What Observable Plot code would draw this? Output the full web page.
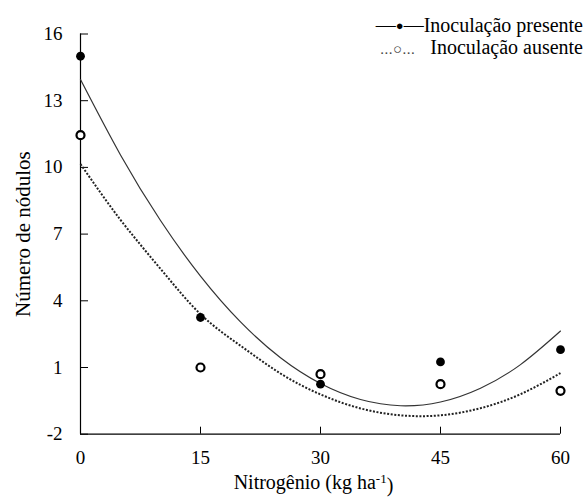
<!DOCTYPE html>
<html>
<head>
<meta charset="utf-8">
<script src="https://cdn.jsdelivr.net/npm/d3@7"></script>
<script src="https://cdn.jsdelivr.net/npm/@observablehq/plot@0.6"></script>
<style>
  body { margin: 0; background: #fff; }
  #wrap { position: relative; width: 585px; height: 502px; font-family: "Liberation Serif", "Times New Roman", "Tinos", "Noto Serif", "DejaVu Serif", serif; }
  .leg { position: absolute; right: 2px; font-size: 20px; color: #000; white-space: nowrap; height: 22px; line-height: 22px; text-align: right; }
</style>
</head>
<body>
<div id="wrap">
  <div id="chart"></div>
  <div class="leg" style="top:14px"><span>—</span><span style="font-size:13px;position:relative;top:-2px">●</span><span>—</span>Inoculação presente</div>
  <div class="leg" style="top:36px"><span style="font-size:15px;color:#444;letter-spacing:0.5px">...○...</span>&nbsp;&nbsp; Inoculação ausente</div>
</div>
<script>
// Observed data (Nitrogênio kg/ha vs número de nódulos)
const doses = [0, 15, 30, 45, 60];
const presente = [15.0, 3.25, 0.25, 1.25, 1.8];
const ausente = [11.45, 1.0, 0.7, 0.25, -0.05];

// Fitted curves
const curveX = [0, 5, 10, 15, 20, 25, 30, 35, 40, 45, 50, 55, 60];
const curvePresente = [13.95, 10.56, 7.61, 5.11, 3.05, 1.44, 0.28, -0.44, -0.72, -0.55, 0.07, 1.13, 2.64];
const curveAusente = [10.15, 7.64, 5.44, 3.4, 1.98, 0.73, -0.21, -0.84, -1.15, -1.15, -0.83, -0.2, 0.75];

const xTicks = [0, 15, 30, 45, 60];
const yTicks = [-2, 1, 4, 7, 10, 13, 16];

const ptsP = doses.map((d, i) => ({x: d, y: presente[i]}));
const ptsA = doses.map((d, i) => ({x: d, y: ausente[i]}));
const lnP = curveX.map((d, i) => ({x: d, y: curvePresente[i]}));
const lnA = curveX.map((d, i) => ({x: d, y: curveAusente[i]}));

const font = "'Liberation Serif', 'Times New Roman', Tinos, 'Noto Serif', 'DejaVu Serif', serif";

const chart = Plot.plot({
  width: 585,
  height: 502,
  marginLeft: 80,
  marginRight: 25,
  marginTop: 33.5,
  marginBottom: 68.3,
  style: {fontFamily: font, fontSize: "19px", color: "#000", background: "#fff"},
  x: {domain: [0, 60]},
  y: {domain: [-2, 16]},
  marks: [
    // inward tick marks
    Plot.axisX({ticks: xTicks, tickSize: 7, dy: -7, tickFormat: () => "", label: null}),
    Plot.axisY({ticks: yTicks, tickSize: 8, dx: 8, tickFormat: () => "", label: null}),
    // tick labels
    Plot.axisX({ticks: xTicks, tickSize: 0, tickPadding: 16, tickFormat: d => String(d), label: null, fontSize: 19}),
    Plot.axisY({ticks: yTicks, tickSize: 0, tickPadding: 18, tickFormat: d => String(d), label: null, fontSize: 19}),
    Plot.ruleY([-2], {stroke: "#000", strokeWidth: 1.2}),
    Plot.ruleX([0], {stroke: "#000", strokeWidth: 1.2}),
    Plot.line(lnP, {x: "x", y: "y", curve: "natural", stroke: "#333", strokeWidth: 1.2}),
    Plot.line(lnA, {x: "x", y: "y", curve: "natural", stroke: "#222", strokeWidth: 2, strokeDasharray: "2,1.6", strokeLinecap: "butt"}),
    Plot.dot(ptsP, {x: "x", y: "y", r: 4.4, fill: "#000", stroke: "none"}),
    Plot.dot(ptsA, {x: "x", y: "y", r: 4, fill: "#fff", stroke: "#000", strokeWidth: 2.2}),
    Plot.text(["Número de nódulos"], {frameAnchor: "left", textAnchor: "middle", rotate: -90, dx: -57.5, fontSize: 21, fill: "#000"}),
    Plot.text(["Nitrogênio (kg ha-1)"], {frameAnchor: "bottom", textAnchor: "middle", dx: -7, dy: 55, fontSize: 20, fill: "#000"})
  ]
});
document.getElementById("chart").appendChild(chart);

// superscript for the unit in the x label
d3.select(chart).selectAll("text").each(function() {
  const t = d3.select(this);
  if (t.text() === "Nitrogênio (kg ha-1)") {
    t.text("");
    t.append("tspan").text("Nitrogênio (kg ha");
    t.append("tspan").attr("dy", "-0.45em").attr("font-size", "13px").text("-1");
    t.append("tspan").attr("dy", "0.45em").text(")");
  }
});
</script>
</body>
</html>
